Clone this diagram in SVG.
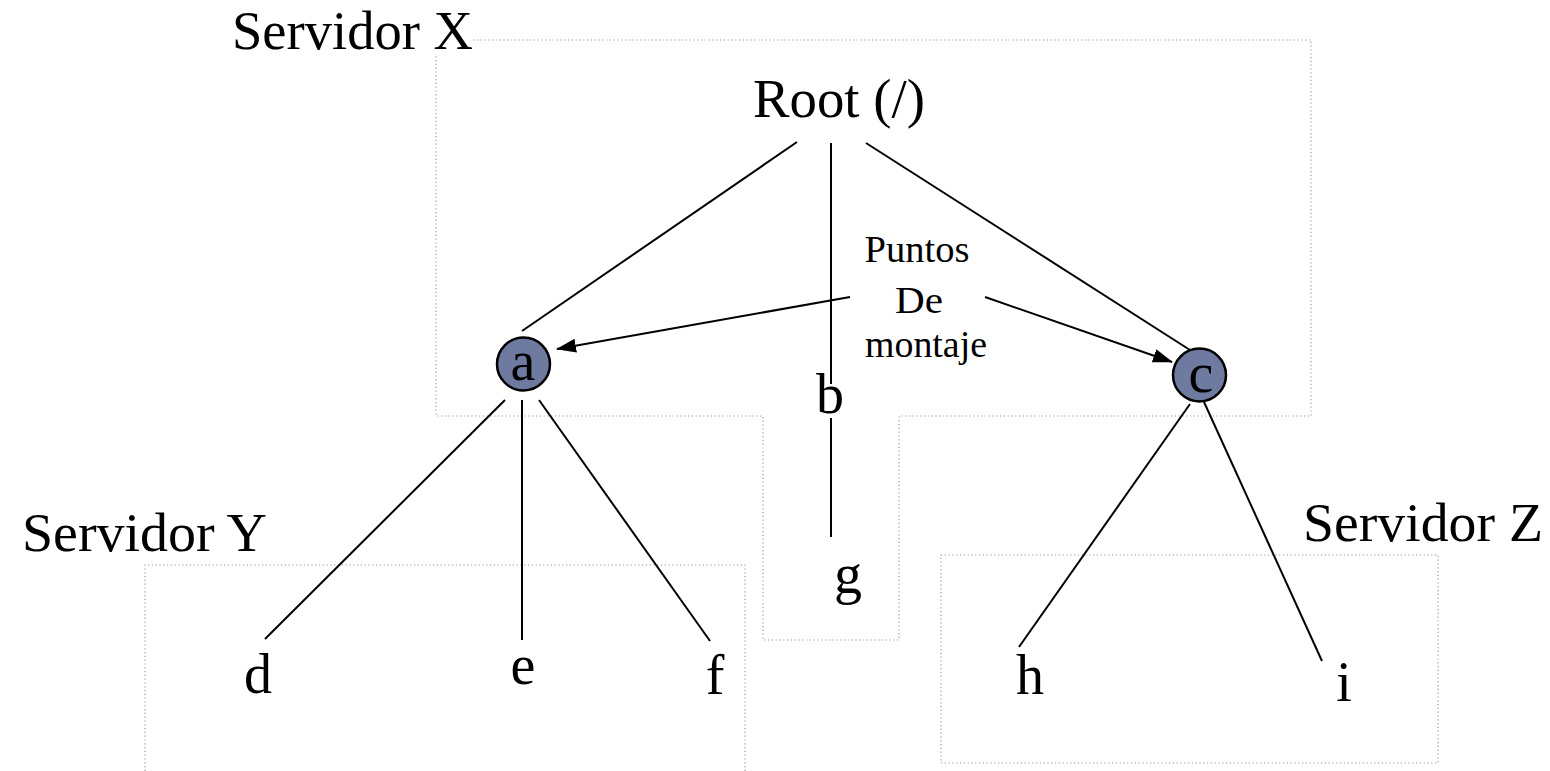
<svg xmlns="http://www.w3.org/2000/svg" width="1550" height="771" viewBox="0 0 1550 771" font-family="'Liberation Serif', 'Times New Roman', Times, serif">
  <style>
    text { font-family: "Liberation Serif", "Times New Roman", Times, serif; fill: #000; }
    .big { font-size: 55px; }
    .leaf { font-size: 56px; text-anchor: middle; }
    .note { font-size: 38px; text-anchor: middle; }
    .zone { fill: none; stroke: #9a9a9a; stroke-width: 1.2; stroke-dasharray: 1.2 2.6; }
    .edge { stroke: #000; stroke-width: 2; fill: none; }
    .pointer { stroke: #000; stroke-width: 2; fill: none; marker-end: url(#head); }
    .mount { fill: #6f7aa0; stroke: #000; stroke-width: 2.5; }
  </style>
  <defs>
    <marker id="head" viewBox="0 0 20 14" refX="19" refY="7" markerWidth="20" markerHeight="14" markerUnits="userSpaceOnUse" orient="auto">
      <path d="M0,0 L20,7 L0,14 Z" fill="#000"/>
    </marker>
  </defs>

  <!-- server zones -->
  <g id="servidor-x">
    <path class="zone" d="M473,40 H1311 V416 H899 V640 H763 V416 H436 V55"/>
    <text class="big" x="232" y="49" textLength="241" lengthAdjust="spacingAndGlyphs">Servidor X</text>
  </g>
  <g id="servidor-y">
    <path class="zone" d="M145,771 V565 H745 V771"/>
    <text class="big" x="22" y="551" textLength="245" lengthAdjust="spacingAndGlyphs">Servidor Y</text>
  </g>
  <g id="servidor-z">
    <rect class="zone" x="941" y="555" width="497" height="208"/>
    <text class="big" x="1303" y="541" textLength="240" lengthAdjust="spacingAndGlyphs">Servidor Z</text>
  </g>

  <!-- tree edges and mount-point pointers -->
  <g id="connectors">
    <line class="edge" x1="797" y1="142" x2="522" y2="331"/>
    <line class="edge" x1="831" y1="143" x2="831" y2="384"/>
    <line class="edge" x1="866" y1="143" x2="1190" y2="350"/>
    <line class="edge" x1="831" y1="418" x2="831" y2="537"/>
    <line class="edge" x1="505" y1="400" x2="265" y2="639"/>
    <line class="edge" x1="522" y1="400" x2="522" y2="640"/>
    <line class="edge" x1="539" y1="400" x2="710" y2="641"/>
    <line class="edge" x1="1190" y1="404" x2="1019" y2="647"/>
    <line class="edge" x1="1204" y1="402" x2="1322" y2="661"/>
    <line class="pointer" x1="850" y1="297" x2="557" y2="349"/>
    <line class="pointer" x1="985" y1="297" x2="1172" y2="362"/>
  </g>

  <g id="root">
    <text class="big" x="753" y="117" textLength="172" lengthAdjust="spacingAndGlyphs">Root (/)</text>
  </g>

  <g id="puntos-de-montaje">
    <text class="note" x="917" y="262" textLength="105" lengthAdjust="spacingAndGlyphs">Puntos</text>
    <text class="note" x="919" y="313" textLength="48" lengthAdjust="spacingAndGlyphs">De</text>
    <text class="note" x="926" y="357" textLength="122" lengthAdjust="spacingAndGlyphs">montaje</text>
  </g>

  <g id="node-a">
    <circle class="mount" cx="523.5" cy="364" r="26.5"/>
    <text class="leaf" x="523" y="380" font-size="54">a</text>
  </g>
  <g id="node-b">
    <text class="leaf" x="830" y="413">b</text>
  </g>
  <g id="node-c">
    <circle class="mount" cx="1199.5" cy="375" r="26.5"/>
    <text class="leaf" x="1201" y="392" font-size="50">c</text>
  </g>
  <g id="node-d">
    <text class="leaf" x="258" y="693">d</text>
  </g>
  <g id="node-e">
    <text class="leaf" x="523" y="684">e</text>
  </g>
  <g id="node-f">
    <text class="leaf" x="715" y="694">f</text>
  </g>
  <g id="node-g">
    <text class="leaf" x="848" y="593">g</text>
  </g>
  <g id="node-h">
    <text class="leaf" x="1030" y="694">h</text>
  </g>
  <g id="node-i">
    <text class="leaf" x="1344" y="701">i</text>
  </g>
</svg>
